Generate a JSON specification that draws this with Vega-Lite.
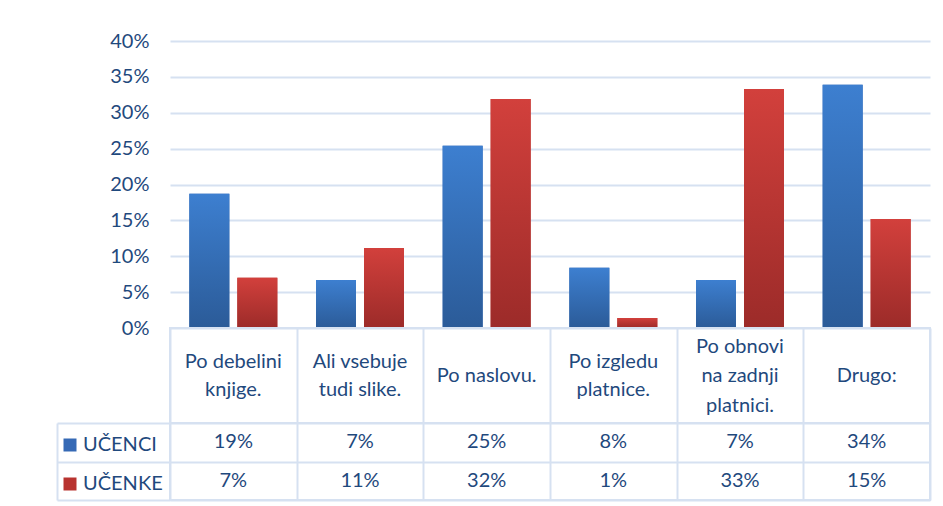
{
  "$schema": "https://vega.github.io/schema/vega-lite/v6.json",
  "background": "white",
  "padding": {"left": 55, "top": 31, "right": 10, "bottom": 5},
  "datasets": {
    "t": [
      {"category": "Po debelini\nknjige.", "series": "UČENCI", "value": 0.187},
      {"category": "Po debelini\nknjige.", "series": "UČENKE", "value": 0.070},
      {"category": "Ali vsebuje\ntudi slike.", "series": "UČENCI", "value": 0.067},
      {"category": "Ali vsebuje\ntudi slike.", "series": "UČENKE", "value": 0.1115},
      {"category": "Po naslovu.", "series": "UČENCI", "value": 0.254},
      {"category": "Po naslovu.", "series": "UČENKE", "value": 0.319},
      {"category": "Po izgledu\nplatnice.", "series": "UČENCI", "value": 0.084},
      {"category": "Po izgledu\nplatnice.", "series": "UČENKE", "value": 0.014},
      {"category": "Po obnovi\nna zadnji\nplatnici.", "series": "UČENCI", "value": 0.067},
      {"category": "Po obnovi\nna zadnji\nplatnici.", "series": "UČENKE", "value": 0.333},
      {"category": "Drugo:", "series": "UČENCI", "value": 0.339},
      {"category": "Drugo:", "series": "UČENKE", "value": 0.152}
    ]
  },
  "spacing": 0,
  "bounds": "flush",
  "vconcat": [
    {
      "width": 760,
      "height": 287,
      "data": {"name": "t"},
      "encoding": {
        "x": {"field": "category", "type": "nominal", "sort": null, "scale": {"paddingInner": 0, "paddingOuter": 0}, "axis": null},
        "xOffset": {"field": "series", "type": "nominal", "sort": null, "scale": {"domain": ["UČENCI", "UČENKE"], "paddingInner": 0.1667, "paddingOuter": 0.403}},
        "y": {
          "field": "value", "type": "quantitative",
          "scale": {"domain": [0, 0.4], "nice": false},
          "axis": {"format": ".0%", "values": [0, 0.05, 0.1, 0.15, 0.2, 0.25, 0.3, 0.35, 0.4], "grid": true, "domain": false, "ticks": false, "labelPadding": 21, "title": null, "labelFontSize": 20, "labelColor": "#1F497D", "gridColor": "#D6E1F1", "gridWidth": 2}
        }
      },
      "layer": [
        {
          "mark": {"type": "bar"},
          "encoding": {
            "color": {
              "field": "series", "type": "nominal", "sort": null,
              "scale": {"domain": ["UČENCI", "UČENKE"], "range": ["#3569B5", "#B8332F"]},
              "legend": {
                "orient": "none", "legendX": -110, "legendY": 394, "title": null,
                "symbolType": "square", "symbolSize": 169, "symbolStrokeWidth": 0,
                "labelFontSize": 20, "labelColor": "#1F497D", "labelOffset": 3, "rowPadding": 19, "padding": 0
              }
            }
          }
        },
        {
          "transform": [{"filter": "datum.series === 'UČENCI'"}],
          "mark": {"type": "bar", "fill": {"gradient": "linear", "x1": 0, "y1": 0, "x2": 0, "y2": 1, "stops": [{"offset": 0, "color": "#3D7FD0"}, {"offset": 1, "color": "#2B5B98"}]}}
        },
        {
          "transform": [{"filter": "datum.series === 'UČENKE'"}],
          "mark": {"type": "bar", "fill": {"gradient": "linear", "x1": 0, "y1": 0, "x2": 0, "y2": 1, "stops": [{"offset": 0, "color": "#D2403C"}, {"offset": 1, "color": "#9C2B29"}]}}
        }
      ]
    },
    {
      "width": 760,
      "height": 95,
      "data": {"name": "t"},
      "transform": [{"filter": "datum.series === 'UČENCI'"}],
      "view": {"stroke": "#D6E1F1", "strokeWidth": 2},
      "encoding": {
        "x": {"field": "category", "type": "nominal", "sort": null,
          "scale": {"domain": ["Po debelini\nknjige.", "Ali vsebuje\ntudi slike.", "Po naslovu.", "Po izgledu\nplatnice.", "Po obnovi\nna zadnji\nplatnici.", "Drugo:"], "paddingInner": 0, "paddingOuter": 0},
          "axis": {"orient": "top", "labels": false, "ticks": false, "domain": false, "grid": true, "tickBand": "extent", "title": null, "gridColor": "#D6E1F1", "gridWidth": 2}},
        "text": {"field": "category"}
      },
      "layer": [
        {
          "transform": [{"filter": "split(datum.category, '\\n').length === 1"}],
          "mark": {"type": "text", "lineBreak": "\n", "lineHeight": 29, "fontSize": 20, "color": "#1F497D", "dy": 0}
        },
        {
          "transform": [{"filter": "split(datum.category, '\\n').length === 2"}],
          "mark": {"type": "text", "lineBreak": "\n", "lineHeight": 28.5, "fontSize": 20, "color": "#1F497D", "dy": -14}
        },
        {
          "transform": [{"filter": "split(datum.category, '\\n').length === 3"}],
          "mark": {"type": "text", "lineBreak": "\n", "lineHeight": 29.5, "fontSize": 20, "color": "#1F497D", "dy": -29}
        }
      ]
    },
    {
      "width": 760,
      "height": 77,
      "data": {"name": "t"},
      "view": {"stroke": "#D6E1F1", "strokeWidth": 2},
      "layer": [
        {
          "mark": {"type": "text", "fontSize": 20, "color": "#1F497D"},
          "encoding": {
            "x": {"field": "category", "type": "nominal", "sort": null,
              "scale": {"domain": ["Po debelini\nknjige.", "Ali vsebuje\ntudi slike.", "Po naslovu.", "Po izgledu\nplatnice.", "Po obnovi\nna zadnji\nplatnici.", "Drugo:"], "paddingInner": 0, "paddingOuter": 0},
              "axis": {"orient": "top", "labels": false, "ticks": false, "domain": false, "grid": true, "tickBand": "extent", "title": null, "gridColor": "#D6E1F1", "gridWidth": 2}},
            "y": {"field": "series", "type": "nominal", "sort": null, "scale": {"domain": ["UČENCI", "UČENKE"], "paddingInner": 0, "paddingOuter": 0},
              "axis": {"orient": "left", "labels": false, "domain": false, "ticks": true, "tickBand": "extent", "tickSize": 113, "tickColor": "#D6E1F1", "tickWidth": 2, "grid": true, "gridColor": "#D6E1F1", "gridWidth": 2, "title": null}},
            "text": {"field": "value", "type": "quantitative", "format": ".0%"}
          }
        },
        {
          "mark": {"type": "text", "fontSize": 20},
          "encoding": {
            "x": {"field": "category", "type": "nominal", "sort": null},
            "y": {"field": "series", "type": "nominal", "sort": null,
              "axis": {"orient": "left", "offset": 113, "labels": false, "domain": true, "domainColor": "#D6E1F1", "domainWidth": 2, "ticks": false, "grid": false, "title": null}},
            "text": {"value": ""}
          }
        }
      ],
      "resolve": {"axis": {"y": "independent", "x": "shared"}}
    }
  ],
  "config": {
    "font": "Lato",
    "view": {"stroke": null}
  }
}
